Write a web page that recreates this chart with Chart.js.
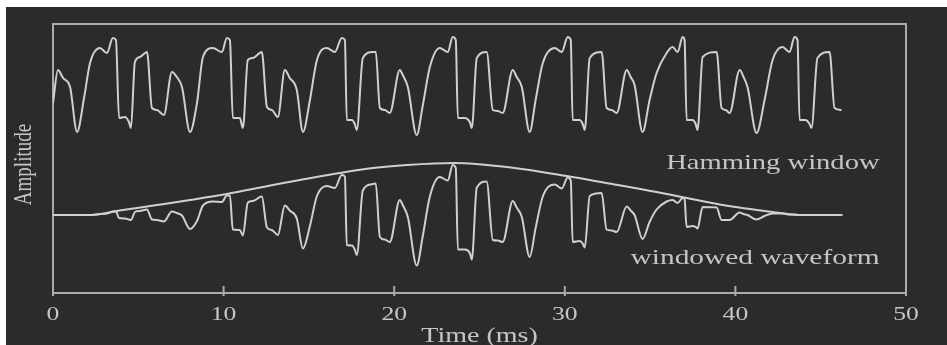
<!DOCTYPE html>
<html>
<head>
<meta charset="utf-8">
<script src="https://cdn.jsdelivr.net/npm/chart.js@4.4.1/dist/chart.umd.min.js"></script>
<style>
html, body { margin: 0; padding: 0; background: #fff; }
#wrap { position: absolute; left: 6px; top: 7px; width: 941px; height: 338px; background: #2b2b2b; }
</style>
</head>
<body>
<div id="wrap"><canvas id="waveChart" width="941" height="338"></canvas></div>
<script>
// time axis (ms) shared by the raw and windowed waveform
const timeMs = [
  0, 0.29, 0.59, 1.00, 1.41, 1.82, 2.17, 2.75, 3.16, 3.51,
  3.69, 3.87, 4.22, 4.45, 4.57, 4.80, 5.10, 5.51, 5.80, 6.09,
  6.50, 6.97, 7.26, 7.56, 8.03, 8.44, 8.79, 9.37, 9.90, 10.19,
  10.37, 10.54, 10.95, 11.13, 11.42, 11.72, 12.24, 12.54, 12.83, 13.18,
  13.59, 13.88, 14.29, 14.65, 15.06, 15.47, 16.05, 16.52, 16.93, 17.11,
  17.22, 17.52, 17.69, 17.81, 18.16, 18.75, 18.92, 19.16, 19.45, 19.74,
  20.33, 20.50, 20.80, 21.32, 21.68, 22.09, 22.67, 23.14, 23.43, 23.61,
  23.73, 24.14, 24.43, 24.55, 24.84, 25.42, 25.78, 26.07, 26.36, 26.95,
  27.18, 27.48, 27.94, 28.29, 28.71, 29.41, 29.82, 30.17, 30.35, 30.46,
  30.87, 31.05, 31.17, 31.46, 32.16, 32.45, 32.75, 33.04, 33.63, 33.86,
  34.09, 34.56, 34.97, 35.38, 35.97, 36.32, 36.61, 36.91, 37.02, 37.14,
  37.49, 37.67, 37.78, 38.08, 38.90, 39.19, 39.43, 39.66, 40.25, 40.48,
  40.71, 41.24, 41.71, 42.18, 42.76, 43.17, 43.47, 43.64, 43.76, 44.11,
  44.35, 44.46, 44.81, 45.52, 45.81, 46.22
];

// upper trace: the raw waveform (drawn offset above the windowed one)
const waveform = [
  2.24, 2.90, 2.74, 2.56, 1.66, 2.34, 3.04, 3.34, 3.24, 3.54,
  3.50, 1.94, 1.96, 1.86, 1.74, 3.06, 3.16, 3.26, 2.14, 2.10,
  2.00, 2.86, 2.76, 2.56, 1.66, 2.24, 3.16, 3.34, 3.26, 3.54,
  3.50, 1.94, 1.94, 1.74, 3.10, 3.14, 3.26, 2.16, 2.10, 1.96,
  2.90, 2.74, 2.50, 1.66, 2.30, 3.10, 3.34, 3.26, 3.54, 3.50,
  1.90, 1.90, 1.82, 1.70, 3.14, 3.26, 3.26, 2.14, 2.10, 2.04,
  2.90, 2.80, 2.56, 1.60, 2.20, 2.96, 3.34, 3.26, 3.56, 3.50,
  1.94, 1.94, 1.86, 1.74, 3.14, 3.26, 2.10, 2.08, 2.04, 2.90,
  2.76, 2.56, 1.66, 2.30, 3.04, 3.34, 3.26, 3.56, 3.50, 1.90,
  1.90, 1.82, 1.70, 3.14, 3.26, 2.14, 2.10, 2.04, 2.90, 2.76,
  2.60, 1.66, 2.30, 2.84, 3.24, 3.36, 3.26, 3.56, 3.50, 1.90,
  1.90, 1.82, 1.70, 3.16, 3.26, 2.14, 2.10, 2.04, 2.90, 2.76,
  2.56, 1.64, 2.30, 3.10, 3.36, 3.26, 3.56, 3.50, 1.90, 1.90,
  1.82, 1.74, 3.14, 3.26, 2.14, 2.10
];

// lower trace: windowed waveform
const windowedWave = [
  0, 0, 0, 0, 0, 0, 0, 0.02, 0.03, 0.07,
  0.07, -0.06, -0.07, -0.09, -0.10, 0.06, 0.08, 0.11, -0.09, -0.10,
  -0.13, 0.07, 0.04, -0.01, -0.28, -0.12, 0.19, 0.27, 0.26, 0.39,
  0.39, -0.29, -0.30, -0.41, 0.25, 0.28, 0.37, -0.25, -0.30, -0.40,
  0.19, 0.09, -0.07, -0.67, -0.22, 0.38, 0.58, 0.54, 0.80, 0.77,
  -0.60, -0.61, -0.69, -0.80, 0.49, 0.62, 0.63, -0.44, -0.49, -0.54,
  0.30, 0.20, -0.04, -1.01, -0.41, 0.37, 0.76, 0.69, 1.00, 0.94,
  -0.69, -0.69, -0.76, -0.89, 0.55, 0.67, -0.50, -0.51, -0.54, 0.28,
  0.15, -0.04, -0.84, -0.26, 0.37, 0.61, 0.53, 0.75, 0.69, -0.54,
  -0.52, -0.57, -0.65, 0.38, 0.44, -0.29, -0.31, -0.34, 0.17, 0.09,
  0.00, -0.48, -0.14, 0.11, 0.27, 0.30, 0.24, 0.34, 0.32, -0.24,
  -0.22, -0.24, -0.27, 0.16, 0.15, -0.10, -0.10, -0.10, 0.05, 0.02,
  0.00, -0.09, -0.02, 0.03, 0.03, 0.01, 0.01, 0, 0, 0,
  0, 0, 0, 0, 0, 0
];

// hamming window envelope
const windowTime = [0, 2.17, 4.10, 6.09, 8.03, 10.19, 12.89, 16.81, 18.75, 20.74,
  23.55, 26.59, 30.11, 32.45, 35.38, 36.85, 39.25, 42.18, 43.76, 46.28];
const hammingWindow = [0, 0, 0.10, 0.20, 0.30, 0.42, 0.60, 0.84, 0.94, 1.00,
  1.04, 0.96, 0.78, 0.64, 0.46, 0.36, 0.20, 0.06, 0, 0];

const xTicks = [0, 10, 20, 30, 40, 50];
const xTitle = "Time (ms)";
const yTitle = "Amplitude";
const curveLabels = ["Hamming window", "windowed waveform"];

const ink = "#d0d0d0";
const textInk = "#c6c6c6";
const serif = "'Liberation Serif', 'Times New Roman', serif";

function pairs(xs, ys) {
  return xs.map((x, i) => ({ x: x, y: ys[i] }));
}

// the scanned figure is stretched sideways, so all its lettering is too.
// anchor: 0 = left, 0.5 = centre, 1 = right
function wideText(ctx, text, x, y, stretch, anchor) {
  const w = ctx.measureText(text).width * stretch;
  ctx.save();
  ctx.translate(x - w * anchor, y);
  ctx.scale(stretch, 1);
  ctx.fillText(text, 0, 0);
  ctx.restore();
}

const framePlugin = {
  id: "frame",
  beforeDatasetsDraw(chart) {
    const { ctx, chartArea: a, scales } = chart;
    ctx.save();
    ctx.strokeStyle = "#ababab";
    ctx.lineWidth = 2;
    ctx.strokeRect(a.left, a.top, a.right - a.left, a.bottom - a.top);
    ctx.beginPath();
    scales.x.ticks.forEach(t => {
      const px = scales.x.getPixelForValue(t.value);
      ctx.moveTo(px, a.bottom - 7);
      ctx.lineTo(px, a.bottom + 3);
    });
    ctx.stroke();
    ctx.restore();
  },
  afterDraw(chart) {
    const { ctx, chartArea: a, scales } = chart;
    ctx.save();
    ctx.fillStyle = textInk;
    ctx.textAlign = "left";
    ctx.textBaseline = "middle";

    // x tick labels
    ctx.font = "19px " + serif;
    scales.x.ticks.forEach(t => {
      wideText(ctx, String(t.value), scales.x.getPixelForValue(t.value), a.bottom + 22, 1.35, 0.5);
    });

    // axis titles
    ctx.font = "20px " + serif;
    wideText(ctx, xTitle, (a.left + a.right) / 2, a.bottom + 44, 1.4, 0.5);

    ctx.save();
    ctx.translate(19, (a.top + a.bottom) / 2 + 6);
    ctx.rotate(-Math.PI / 2);
    ctx.scale(1, 1.3);
    ctx.font = "19px " + serif;
    ctx.textAlign = "center";
    ctx.fillText(yTitle, 0, 0);
    ctx.restore();

    // curve labels
    ctx.font = "21px " + serif;
    ctx.textBaseline = "alphabetic";
    const right = scales.x.getPixelForValue(48.45);
    wideText(ctx, curveLabels[0], right, scales.y.getPixelForValue(0.92), 1.36, 1);
    wideText(ctx, curveLabels[1], right, scales.y.getPixelForValue(-0.98), 1.4, 1);
    ctx.restore();
  }
};

const lineStyle = {
  borderColor: ink,
  borderWidth: 2,
  pointRadius: 0,
  cubicInterpolationMode: "monotone",
  borderJoinStyle: "round",
  fill: false
};

new Chart(document.getElementById("waveChart"), {
  type: "line",
  data: {
    datasets: [
      Object.assign({ label: "Hamming window", data: pairs(windowTime, hammingWindow) }, lineStyle),
      Object.assign({ label: "windowed waveform", data: pairs(timeMs, windowedWave) }, lineStyle),
      Object.assign({ label: "waveform", data: pairs(timeMs, waveform) }, lineStyle)
    ]
  },
  options: {
    responsive: false,
    animation: false,
    layout: { padding: { top: 17, right: 41, bottom: 0, left: 0 } },
    plugins: { legend: { display: false }, tooltip: { enabled: false } },
    scales: {
      x: {
        type: "linear",
        min: 0,
        max: 50,
        afterBuildTicks: s => { s.ticks = xTicks.map(v => ({ value: v })); },
        afterFit: s => { s.height = 52; },
        ticks: { display: false },
        grid: { display: false, drawTicks: false },
        border: { display: false }
      },
      y: {
        min: -1.56,
        max: 3.82,
        afterFit: s => { s.width = 47; },
        ticks: { display: false },
        grid: { display: false, drawTicks: false },
        border: { display: false }
      }
    }
  },
  plugins: [framePlugin]
});
</script>
</body>
</html>
